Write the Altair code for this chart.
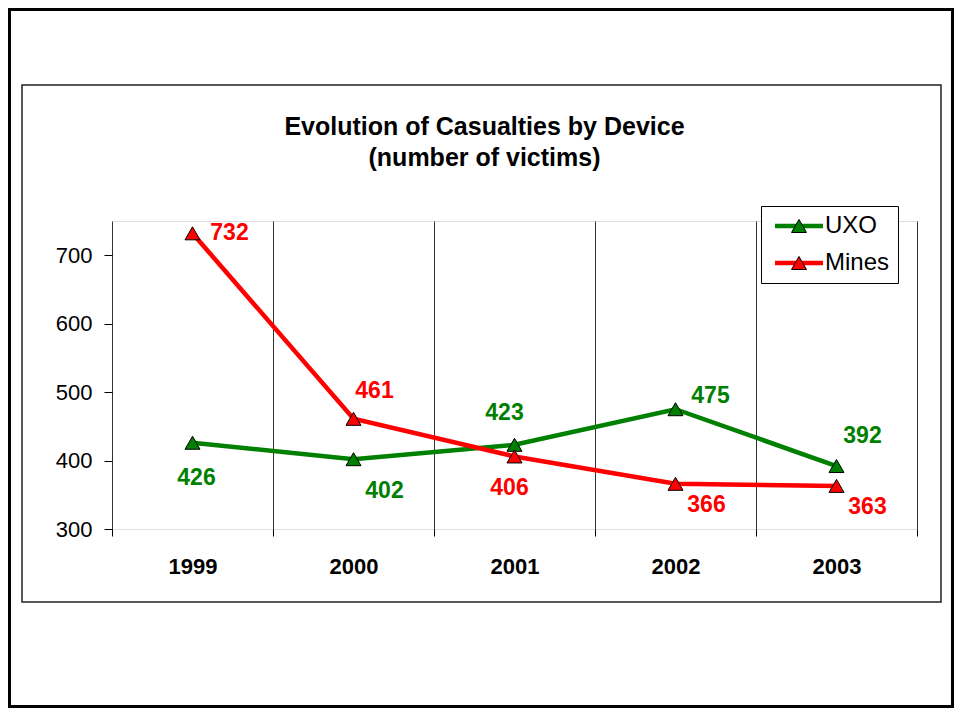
import altair as alt
import pandas as pd

# ---------------- data ----------------
years = [1999, 2000, 2001, 2002, 2003]
uxo = [426, 402, 423, 475, 392]
mines = [732, 461, 406, 366, 363]
series_names = ["UXO", "Mines"]
series_colors = ["#008000", "#FF0000"]
y_ticks = [300, 400, 500, 600, 700]
x_bounds = [1998.5, 1999.5, 2000.5, 2001.5, 2002.5, 2003.5]
title_lines = ["Evolution of Casualties by Device", "(number of victims)"]

# label offsets (dx, dy) in pixels, styling only
label_offsets = {
    ("Mines", 1999): (37, 0), ("Mines", 2000): (21, -28), ("Mines", 2001): (-5, 32),
    ("Mines", 2002): (31, 21), ("Mines", 2003): (31, 21),
    ("UXO", 1999): (4, 35), ("UXO", 2000): (31, 32), ("UXO", 2001): (-10, -32),
    ("UXO", 2002): (35, -13), ("UXO", 2003): (26, -30),
}

rows = []
for i, yr in enumerate(years):
    rows.append({"year": yr, "series": "UXO", "series_b": "UXO", "value": uxo[i]})
    rows.append({"year": yr, "series": "Mines", "series_b": "Mines", "value": mines[i]})
df = pd.DataFrame(rows)

FONT = "Liberation Sans"
W, H = 805, 308
PAD_L, PAD_T = 104, 213
TOTAL_W, TOTAL_H = 946, 700

xscale = alt.Scale(domain=[1998.5, 2003.5], nice=False, zero=False)
yscale = alt.Scale(domain=[300, 750], nice=False, zero=False)

y_axis = alt.Axis(values=y_ticks, grid=False, tickSize=8, tickColor="black",
                  domain=False, labelFont=FONT, labelFontSize=22, labelColor="black",
                  labelPadding=12, title=None)

base = alt.Chart(df)

# decorative frames
frame_df = pd.DataFrame({"k": [0]})
outer = alt.Chart(frame_df).mark_rect(fillOpacity=0, stroke="black", strokeWidth=3).encode(
    x=alt.value(-102.5), x2=alt.value(TOTAL_W - PAD_L - 1.5),
    y=alt.value(-PAD_T + 1.5), y2=alt.value(TOTAL_H - PAD_T - 1.5))
inner = alt.Chart(frame_df).mark_rect(fillOpacity=0, stroke="#222", strokeWidth=1.5).encode(
    x=alt.value(-90), x2=alt.value(829), y=alt.value(-136), y2=alt.value(381))

LEG_X, LEG_Y = 649, -15
LEG_PAD = 8
LEG_ROWPAD = 13

lines = base.mark_line(strokeWidth=4.5).encode(
    x=alt.X("year:Q", scale=xscale,
            axis=alt.Axis(values=x_bounds, grid=True, gridColor="#333", gridWidth=1,
                          ticks=True, tickSize=7, tickColor="black", labels=False,
                          domain=False, title=None, orient="bottom")),
    y=alt.Y("value:Q", scale=yscale, axis=y_axis),
    color=alt.Color("series:N", scale=alt.Scale(domain=series_names, range=series_colors),
                    legend=alt.Legend(title=None, orient="none", legendX=LEG_X, legendY=LEG_Y,
                                      symbolType="M-1.09,0H7.64", symbolSize=121,
                                      symbolStrokeWidth=4.5,
                                      labelFont=FONT, labelFontSize=24, labelColor="black",
                                      labelOffset=32, padding=LEG_PAD, rowPadding=LEG_ROWPAD,
                                      fillColor="white", strokeColor="black")),
    detail="series:N",
)

points = base.mark_point(shape="triangle-up", filled=True, size=225, stroke="black",
                         strokeWidth=1, opacity=1).encode(
    x=alt.X("year:Q", scale=xscale,
            axis=alt.Axis(values=years, format="d", grid=False, ticks=False, domain=False,
                          labelFont=FONT, labelFontSize=22, labelFontWeight="bold",
                          labelColor="black", labelPadding=27, labelFlush=False,
                          labelOverlap=False, title=None, orient="bottom")),
    y=alt.Y("value:Q", scale=yscale, axis=y_axis),
    fill=alt.Fill("series_b:N", sort=series_names,
                  scale=alt.Scale(range=series_colors),
                  legend=alt.Legend(title=None, orient="none", legendX=LEG_X + 18, legendY=LEG_Y,
                                    symbolType="triangle-up", symbolSize=225,
                                    symbolStrokeColor="black", symbolStrokeWidth=1,
                                    labelFont=FONT, labelFontSize=24, labelOpacity=0,
                                    labelOffset=32, padding=LEG_PAD, rowPadding=LEG_ROWPAD)),
)

label_layers = []
for s, col in zip(series_names, series_colors):
    for yr in years:
        dx, dy = label_offsets[(s, yr)]
        label_layers.append(
            base.transform_filter(
                (alt.datum.series == s) & (alt.datum.year == yr)
            ).mark_text(font=FONT, fontSize=23, fontWeight="bold", color=col,
                        align="center", baseline="middle", dx=dx, dy=dy).encode(
                x=alt.X("year:Q", scale=xscale, axis=None),
                y=alt.Y("value:Q", scale=yscale, axis=y_axis),
                text=alt.Text("value:Q", format="d"),
            )
        )

chart = alt.layer(outer, inner, lines, points, *label_layers).resolve_axis(
    x="independent"
).properties(
    width=W, height=H,
    padding={"left": PAD_L, "top": PAD_T, "right": TOTAL_W - PAD_L - W,
             "bottom": TOTAL_H - PAD_T - H},
    autosize=alt.AutoSizeParams(type="none"),
    title=alt.TitleParams(text=title_lines, font=FONT, fontSize=25, fontWeight="bold",
                          color="black", anchor="middle", dx=-30, offset=0, dy=163,
                          lineHeight=31),
).configure_view(stroke="black", strokeWidth=1).configure(background="white")

chart.save("out.html", embed_options={"renderer": "svg", "actions": False})
